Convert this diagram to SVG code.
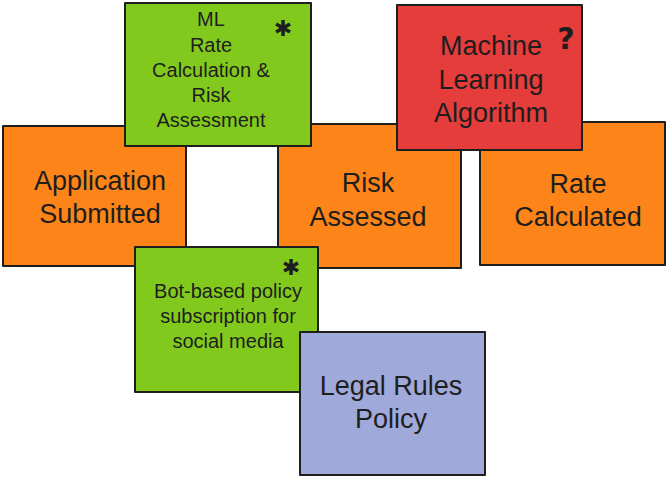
<svg xmlns="http://www.w3.org/2000/svg" width="669" height="479" viewBox="0 0 669 479">
<style>
.box{stroke:#1e1e1e;stroke-width:2;stroke-linejoin:round}
.orange{fill:#fd8419}
.green{fill:#82c91e}
.red{fill:#e53c3c}
.blue{fill:#9fa9da}
text{font-family:"Liberation Sans",Arial,sans-serif;fill:#1e1e1e;text-anchor:middle}
.big{font-size:27px}
.small{font-size:20px}
.mark{font-family:"DejaVu Sans",sans-serif;font-weight:bold}
</style>
<rect width="669" height="479" fill="#ffffff"/>
<g id="application-submitted">
<rect class="box orange" x="3" y="126" width="183" height="140"/>
<text class="big" x="100" y="190">Application</text>
<text class="big" x="100" y="223">Submitted</text>
</g>
<g id="risk-assessed">
<rect class="box orange" x="278" y="124" width="183" height="144"/>
<text class="big" x="368" y="192">Risk</text>
<text class="big" x="368" y="226">Assessed</text>
</g>
<g id="rate-calculated">
<rect class="box orange" x="480" y="122" width="185" height="143"/>
<text class="big" x="578" y="193">Rate</text>
<text class="big" x="578" y="226">Calculated</text>
</g>
<g id="ml-rate-calculation">
<rect class="box green" x="125" y="3" width="186" height="143"/>
<text class="small" x="211" y="26">ML</text>
<text class="small" x="211" y="52">Rate</text>
<text class="small" x="211" y="77">Calculation &amp;</text>
<text class="small" x="211" y="102">Risk</text>
<text class="small" x="211" y="127">Assessment</text>
<text class="mark" x="283" y="36" font-size="22">✱</text>
</g>
<g id="machine-learning-algorithm">
<rect class="box red" x="397" y="5" width="185" height="145"/>
<text class="big" x="491" y="55">Machine</text>
<text class="big" x="491" y="89">Learning</text>
<text class="big" x="491" y="122">Algorithm</text>
<text class="mark" x="566" y="49" font-size="30">?</text>
</g>
<g id="bot-based-policy">
<rect class="box green" x="135" y="247" width="183" height="145"/>
<text class="small" x="228" y="298">Bot-based policy</text>
<text class="small" x="228" y="323">subscription for</text>
<text class="small" x="228" y="348">social media</text>
<text class="mark" x="291" y="275" font-size="22">✱</text>
</g>
<g id="legal-rules-policy">
<rect class="box blue" x="300" y="332" width="185" height="143"/>
<text class="big" x="391" y="395">Legal Rules</text>
<text class="big" x="391" y="428">Policy</text>
</g>
<g id="connectors"/>
</svg>
